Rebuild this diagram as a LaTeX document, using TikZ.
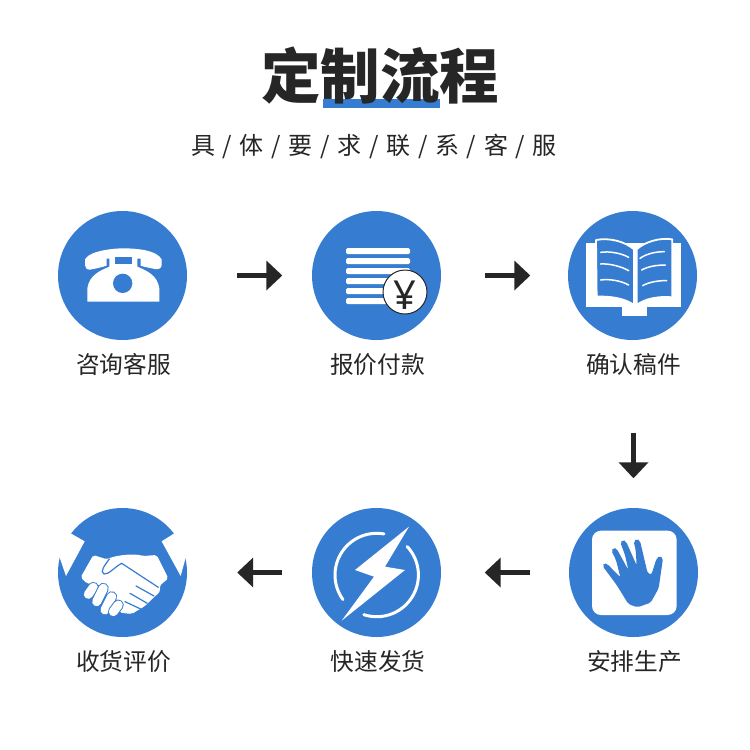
\documentclass[tikz,border=0pt]{standalone}
\usepackage{fontspec}
\usetikzlibrary{arrows.meta}
\setmainfont{Noto Sans}
\newfontfamily\cjk{Noto Sans CJK SC}
\definecolor{iconblue}{HTML}{367DD2}
\definecolor{inkdark}{HTML}{262626}
\newcommand{\slashgap}{\hspace{7.7pt}/\hspace{7.7pt}}
\tikzset{
	stepcircle/.style={circle,fill=iconblue,minimum size=129pt,inner sep=0pt},
	steplabel/.style={text=inkdark,font=\cjk\fontsize{23.7pt}{26pt}\selectfont,inner sep=0pt},
	flowarrow/.style={draw=inkdark,line width=5.5pt,-{Triangle[length=16pt,width=29pt,fill=inkdark]}},
	iconscale/.style={x=0.33333pt,y=-0.33333pt},
	whitestroke/.style={draw=white,line cap=round}
}
\begin{document}
\begin{tikzpicture}[x=1pt,y=-1pt]
				\useasboundingbox (0,0) rectangle (750,750);
				\fill[white] (0,0) rectangle (750,750);
				\fill[iconblue] (323,99) rectangle (440,108);
				\node[text=inkdark,inner sep=0pt,font=\cjk\bfseries\fontsize{59.5pt}{62pt}\selectfont] (title) at (380,76) {定制流程};
				\node[text=inkdark,inner sep=0pt,font=\cjk\fontsize{24pt}{26pt}\selectfont] (subtitle) at (374,146) {具\slashgap 体\slashgap 要\slashgap 求\slashgap 联\slashgap 系\slashgap 客\slashgap 服};
				\node[stepcircle] (zixun) at (122.5,275.5) {};
				\node[stepcircle] (baojia) at (376.5,275.5) {};
				\node[stepcircle] (queren) at (632.5,275.5) {};
				\node[stepcircle] (anpai) at (633.5,572.5) {};
				\node[stepcircle] (kuaisu) at (376.5,572.5) {};
				\node[stepcircle] (shouhuo) at (122.5,572.5) {};
				\node[steplabel] (zixunlabel) at (123.5,364.5) {咨询客服};
				\node[steplabel] (baojialabel) at (377.5,364.5) {报价付款};
				\node[steplabel] (querenlabel) at (633.5,364.5) {确认稿件};
				\node[steplabel] (anpailabel) at (634.5,661.5) {安排生产};
				\node[steplabel] (kuaisulabel) at (378,661.5) {快速发货};
				\node[steplabel] (shouhuolabel) at (123.5,661.5) {收货评价};
				\draw[flowarrow,shorten <=50pt,shorten >=29.5pt] (zixun) -- (baojia);
				\draw[flowarrow,shorten <=43.5pt,shorten >=37.5pt] (baojia) -- (queren);
				\draw[flowarrow,shorten <=92.5pt,shorten >=29.5pt] ([xshift=1pt]queren.south) ++(0,0) -- (anpai.north);
				\draw[flowarrow,shorten <=38.5pt,shorten >=43.5pt] (anpai) -- (kuaisu);
				\draw[flowarrow,shorten <=29.5pt,shorten >=50pt] (kuaisu) -- (shouhuo);
				\begin{scope}[shift={(50,200)},iconscale]
					\fill[white] (105,178) .. controls (120,150) and (200,145) .. (218,145) .. controls (260,145) and (320,150) .. (335,178) -- (335,195) .. controls (335,205) and (325,209) .. (315,207) .. controls (295,203) and (280,200) .. (272,197) -- (272,176) -- (170,176) -- (170,197) .. controls (155,202) and (135,206) .. (120,209) .. controls (110,209) and (105,203) .. (105,195) -- cycle;
					\fill[white] (112,305) -- (328,305) -- (328,265) .. controls (322,225) and (290,212) .. (262,200) -- (262,170) -- (178,170) -- (178,200) .. controls (150,212) and (118,225) .. (112,265) -- cycle;
					\fill[iconblue] (195,172) rectangle (245,192);
					\fill[iconblue] (218,250) circle (29);
				\end{scope}
				\foreach \rowy in {248,258,268,278,288,298}
					\fill[white,rounded corners=1.5pt] (346,\rowy) rectangle (410,\rowy+6);
				\draw[fill=white,draw=inkdark,line width=1pt] (405,292) circle (22);
				\node[text=inkdark,inner sep=0pt,font=\fontsize{40pt}{44pt}\selectfont] (yen) at (405,295) {¥};
				\begin{scope}[shift={(560,200)},iconscale]
					\fill[white] (79,128) rectangle (362,322);
					\fill[white] (187,322) rectangle (262,347);
					\filldraw[fill=iconblue,draw=white,line width=1.8pt,line join=round] (108,120) .. controls (150,112) and (195,125) .. (222,148) -- (222,315) .. controls (195,295) and (150,288) .. (110,290) -- cycle;
					\filldraw[fill=iconblue,draw=white,line width=1.8pt,line join=round] (230,148) .. controls (255,125) and (300,112) .. (337,118) -- (337,292) .. controls (300,288) and (255,295) .. (230,315) -- cycle;
					\draw[whitestroke,line width=1.5pt] (122,157) .. controls (150,153) and (185,160) .. (206,172);
					\draw[whitestroke,line width=1.5pt] (122,192) .. controls (150,190) and (185,200) .. (206,212);
					\draw[whitestroke,line width=1.5pt] (122,240) .. controls (150,236) and (185,243) .. (206,255);
					\draw[whitestroke,line width=1.5pt] (240,175) .. controls (258,162) and (285,155) .. (313,155);
					\draw[whitestroke,line width=1.5pt] (245,210) .. controls (262,200) and (290,195) .. (316,195);
					\draw[whitestroke,line width=1.5pt] (248,257) .. controls (265,247) and (295,241) .. (320,242);
				\end{scope}
				\begin{scope}[shift={(560,500)},iconscale]
					\fill[white,rounded corners=9pt] (96,92) rectangle (350,345);
					\fill[iconblue,rounded corners=2pt] (127,197) -- (133,189) -- (142,192) -- (181,232) -- (168,180) -- (154,152) -- (160,143) -- (170,146) -- (205,210) -- (195,165) -- (181,127) -- (188,119) -- (198,124) -- (230,196) -- (227,150) -- (221,124) -- (230,116) -- (240,122) -- (263,220) -- (274,224) -- (290,175) -- (300,167) -- (309,175) -- (296,265) -- (272,308) -- (232,322) -- (205,312) -- (170,255) -- cycle;
				\end{scope}
				\begin{scope}[shift={(300,500)},iconscale]
					\fill[white] (327,80) -- (255,200) -- (315,210) -- (125,362) -- (222,230) -- (165,210) -- cycle;
				\end{scope}
				\draw[whitestroke,line width=3pt] plot[domain=-216:-80,samples=40] ({376.7+41.7*cos(\x)},{575+41.7*sin(\x)});
				\draw[whitestroke,line width=3pt] plot[domain=-43:108,samples=40] ({376.7+41.7*cos(\x)},{575+41.7*sin(\x)});
				\begin{scope}[shift={(50,500)},iconscale]
					\fill[white] (62,100) -- (104,124) -- (48,228) -- (28,170) -- (15,110) -- cycle;
					\fill[white] (373,100) -- (335,124) -- (392,228) -- (408,170) -- (422,110) -- cycle;
					\fill[white,rounded corners=2pt] (130,165) -- (170,178) .. controls (200,165) and (250,160) .. (280,168) -- (320,165) -- (355,235) -- (328,258) -- (332,272) -- (320,285) -- (305,298) -- (285,318) -- (265,330) -- (245,342) -- (210,338) -- (150,255) -- (110,250) -- (92,232) -- cycle;
					\draw[iconblue,line width=1.2pt,line cap=round] (178,177) .. controls (165,195) and (148,215) .. (162,222) .. controls (175,225) and (195,200) .. (215,190) -- (325,262);
					\draw[iconblue,line width=1.2pt,line cap=round] (258,258) -- (312,288);
					\draw[iconblue,line width=1.2pt,line cap=round] (240,280) -- (292,310);
					\draw[iconblue,line width=1.2pt,line cap=round] (225,305) -- (272,327);
					\foreach \xa/\ya/\xb/\yb in {130/262/115/283,160/265/140/305,185/290/165/330,205/315/190/335}{
						\draw[iconblue,line width=11pt,line cap=round] (\xa,\ya) -- (\xb,\yb);
						\draw[white,line width=9pt,line cap=round] (\xa,\ya) -- (\xb,\yb);
					}
				\end{scope}
\end{tikzpicture}
\end{document}
